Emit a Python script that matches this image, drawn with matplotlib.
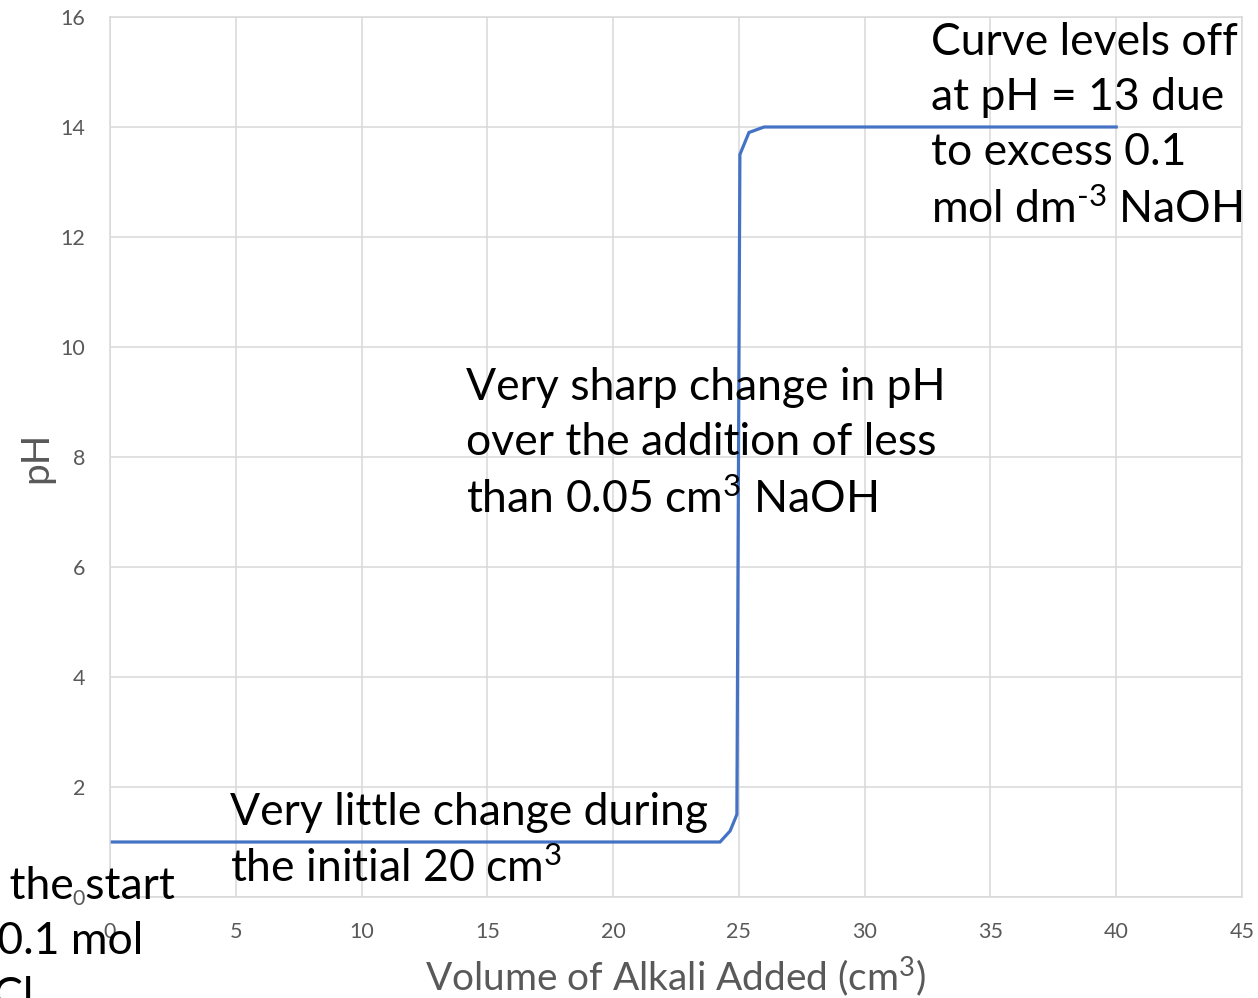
import matplotlib
matplotlib.use("Agg")
import matplotlib.pyplot as plt

# titration curve: strong acid / strong alkali
volume = [0, 24.25, 24.65, 24.92, 25.04, 25.4, 26.0, 40]
ph = [1, 1, 1.2, 1.5, 13.5, 13.9, 14.0, 14.0]

x_ticks = [0, 5, 10, 15, 20, 25, 30, 35, 40, 45]
y_ticks = [0, 2, 4, 6, 8, 10, 12, 14, 16]

plt.rcParams['font.family'] = ['Lato', 'DejaVu Sans']
plt.rcParams['mathtext.fontset'] = 'custom'
plt.rcParams['mathtext.rm'] = 'Lato'
plt.rcParams['mathtext.default'] = 'regular'

W, H = 1258, 998
fig = plt.figure(figsize=(W / 100, H / 100), dpi=100)
ax = fig.add_axes([110 / W, 1 - 897 / H, 1132 / W, 880 / H])

ax.plot(volume, ph, color='#4472c4', linewidth=2.3, solid_joinstyle='miter')

ax.set_xlim(0, 45)
ax.set_ylim(0, 16)
ax.set_xticks(x_ticks)
ax.set_yticks(y_ticks)
ax.grid(True, color='#d9d9d9', linewidth=1.1)
ax.set_axisbelow(True)
for s in ax.spines.values():
    s.set_color('#d9d9d9')
    s.set_linewidth(1.1)
ax.tick_params(length=0, labelsize=15.5, labelcolor='#595959')
ax.tick_params(axis='x', pad=18)
ax.tick_params(axis='y', pad=18)
ax.set_xlabel('Volume of Alkali Added (cm$^3$)', fontsize=28, color='#595959', labelpad=9)
ax.set_ylabel('pH', fontsize=28, color='#595959', labelpad=4)


def px(x, y):
    return x / W, 1 - y / H


txt = dict(fontsize=32, color='black', va='top', ha='left', linespacing=1.43)
fig.text(*px(931, 22), 'Curve levels off\nat pH = 13 due\nto excess 0.1\nmol dm$^{\u2010 3}$ NaOH', **txt)
fig.text(*px(466, 367), 'Very sharp change in pH\nover the addition of less\nthan 0.05 cm$^3$ NaOH', **txt)
fig.text(*px(230, 792), 'Very little change during\nthe initial 20 cm$^3$', **txt)
fig.text(*px(-40, 866), 'at the start\n= 0.1 mol\nHCl', **txt)

fig.savefig('out.png', dpi=100)
